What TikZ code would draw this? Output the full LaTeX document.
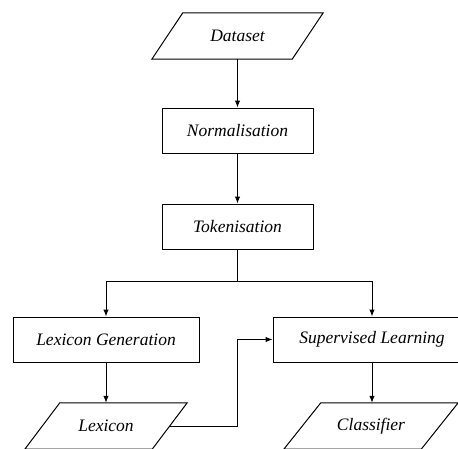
\documentclass[tikz,border=0pt]{standalone}
\usepackage{fontspec}
\setmainfont{Liberation Serif}
\usetikzlibrary{arrows.meta}

\tikzset{
  stepbox/.style={draw, rectangle, line width=1pt, minimum height=45pt, inner sep=0pt},
  iobox/.style={rectangle, minimum height=46pt, inner sep=0pt},
  flow/.style={line width=1pt, -{Latex[length=7pt,width=5.5pt]}}
}

\begin{document}
\begin{tikzpicture}[x=1pt, y=-1pt, font=\fontsize{17.5}{20}\selectfont\itshape]
	\useasboundingbox (0,0) rectangle (458,448);
	\node[iobox, minimum width=140pt] (data) at (237.5, 36) {Dataset};
	\node[stepbox, minimum width=151pt] (norm) at (237.5, 130.5) {Normalisation};
	\node[stepbox, minimum width=151pt] (token) at (237.5, 226.5) {Tokenisation};
	\node[stepbox, minimum width=186pt] (lexgen) at (106, 339.5) {Lexicon Generation};
	\node[stepbox, minimum width=198pt] (superv) at (372, 339.5) {Supervised Learning};
	\node[iobox, minimum width=127pt] (lexicon) at (106, 426) {Lexicon};
	\node[iobox, minimum width=137pt] (classif) at (371, 426) {Classifier};
	% slanted outlines of the input/output boxes
	\foreach \n/\s in {data/15.5, lexicon/17.5, classif/18.5}
		\draw[line width=1pt] ([xshift=\s pt]\n.north west) -- ([xshift=\s pt]\n.north east)
			-- ([xshift=-\s pt]\n.south east) -- ([xshift=-\s pt]\n.south west) -- cycle;
	\coordinate (split) at (237.5, 281);
	\draw[flow] (data) -- (norm);
	\draw[flow] (norm) -- (token);
	\draw[line width=1pt] (token) -- (split);
	\draw[flow] (split) -| (lexgen);
	\draw[flow] (split) -| (superv);
	\draw[flow] (lexgen) -- (lexicon);
	\draw[flow] (superv) -- (superv |- classif.north);
	\draw[flow] (lexicon.east) -- (lexicon.east -| split) |- (superv.west);
\end{tikzpicture}
\end{document}
